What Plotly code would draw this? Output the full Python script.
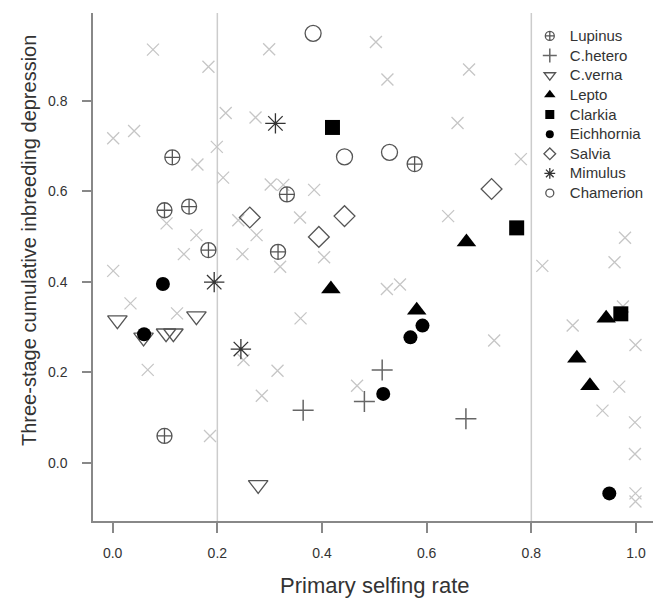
import plotly.graph_objects as go

# ---- data ----
lupinus_x = [0.114, 0.099, 0.146, 0.183, 0.316, 0.333, 0.577, 0.099]
lupinus_y = [0.675, 0.558, 0.566, 0.470, 0.466, 0.593, 0.660, 0.059]

chetero_x = [0.515, 0.481, 0.364, 0.675]
chetero_y = [0.205, 0.135, 0.116, 0.097]

cverna_x = [0.009, 0.160, 0.059, 0.102, 0.116, 0.278]
cverna_y = [0.315, 0.324, 0.277, 0.286, 0.286, -0.049]

lepto_x = [0.676, 0.417, 0.581, 0.943, 0.887, 0.912]
lepto_y = [0.488, 0.384, 0.337, 0.319, 0.231, 0.170]

clarkia_x = [0.420, 0.772, 0.971]
clarkia_y = [0.741, 0.519, 0.329]

eich_x = [0.096, 0.060, 0.592, 0.569, 0.517, 0.949]
eich_y = [0.395, 0.284, 0.303, 0.277, 0.152, -0.068]

salvia_x = [0.262, 0.443, 0.394, 0.724]
salvia_y = [0.542, 0.545, 0.499, 0.605]

mimulus_x = [0.311, 0.194, 0.245]
mimulus_y = [0.750, 0.399, 0.251]

chamerion_x = [0.383, 0.443, 0.529]
chamerion_y = [0.949, 0.676, 0.686]

other_x = [0.001, 0.041, 0.162, 0.199, 0.216, 0.211, 0.273, 0.103, 0.160, 0.136,
           0.240, 0.248, 0.275, 0.001, 0.034, 0.123, 0.250, 0.067, 0.285, 0.186,
           0.299, 0.503, 0.525, 0.681, 0.659, 0.780, 0.302, 0.326, 0.385, 0.641,
           0.358, 0.320, 0.404, 0.524, 0.549, 0.359, 0.729, 0.315, 0.467, 0.979,
           0.959, 0.821, 0.975, 0.879, 0.999, 0.968, 0.936, 0.998, 0.998, 0.999,
           0.999, 0.077, 0.183]
other_y = [0.717, 0.733, 0.659, 0.698, 0.773, 0.630, 0.763, 0.529, 0.503, 0.461,
           0.536, 0.461, 0.503, 0.424, 0.352, 0.330, 0.227, 0.205, 0.148, 0.059,
           0.914, 0.930, 0.847, 0.869, 0.751, 0.671, 0.615, 0.614, 0.603, 0.545,
           0.542, 0.433, 0.454, 0.384, 0.394, 0.319, 0.270, 0.203, 0.170, 0.497,
           0.443, 0.435, 0.345, 0.303, 0.260, 0.168, 0.115, 0.089, 0.019, -0.068,
           -0.086, 0.913, 0.875]

x_ticks = [0.0, 0.2, 0.4, 0.6, 0.8, 1.0]
x_ticklabels = ["0.0", "0.2", "0.4", "0.6", "0.8", "1.0"]
y_ticks = [0.0, 0.2, 0.4, 0.6, 0.8]
y_ticklabels = ["0.0", "0.2", "0.4", "0.6", "0.8"]
ref_lines = [0.2, 0.8]

FONT = "Liberation Sans, Arial, Helvetica, sans-serif"

fig = go.Figure()

# background "other" points
fig.add_trace(go.Scatter(x=other_x, y=other_y, mode="markers", showlegend=False,
                         marker=dict(symbol="x-thin-open", size=12, color="#c6c6c6",
                                     line=dict(width=1.3, color="#c6c6c6"))))

species = [
    ("Lupinus", lupinus_x, lupinus_y, "circle-cross-open", 15, "#555555", 1.3, 9),
    ("C.hetero", chetero_x, chetero_y, "cross-thin-open", 15, "#666666", 1.5, 10),
    ("C.verna", cverna_x, cverna_y, "triangle-down-open", 17, "#555555", 1.3, 10),
    ("Lepto", lepto_x, lepto_y, "triangle-up", 17, "#000000", 0, 10),
    ("Clarkia", clarkia_x, clarkia_y, "square", 15, "#000000", 0, 9),
    ("Eichhornia", eich_x, eich_y, "circle", 14, "#000000", 0, 8),
    ("Salvia", salvia_x, salvia_y, "diamond-open", 16, "#555555", 1.3, 9),
    ("Mimulus", mimulus_x, mimulus_y, "asterisk-open", 17, "#333333", 1.3, 9),
    ("Chamerion", chamerion_x, chamerion_y, "circle-open", 16, "#555555", 1.3, 8),
]

for name, xs, ys, sym, size, col, lw, lsize in species:
    fig.add_trace(go.Scatter(x=xs, y=ys, mode="markers", name=name, showlegend=False,
                             marker=dict(symbol=sym, size=size, color=col,
                                         line=dict(width=lw, color=col))))
for name, xs, ys, sym, size, col, lw, lsize in species:
    fig.add_trace(go.Scatter(x=[None], y=[None], mode="markers",
                             name="<span style='font-size:15px'>" + name + "</span>",
                             showlegend=True,
                             marker=dict(symbol=sym, size=lsize, color=col,
                                         line=dict(width=max(lw, 1) if lw else 0, color=col))))

for v in ref_lines:
    fig.add_shape(type="line", xref="x", yref="paper", x0=v, x1=v, y0=0, y1=1,
                  line=dict(color="#cccccc", width=1.5), layer="below")

fig.update_layout(
    width=653, height=599,
    margin=dict(l=93, r=0, t=13, b=78),
    paper_bgcolor="white", plot_bgcolor="white",
    font=dict(family=FONT, color="#333333", size=14),
    showlegend=True,
    legend=dict(x=0.78, y=0.984, xanchor="left", yanchor="top",
                bgcolor="rgba(0,0,0,0)", font=dict(size=12.8, color="#333333"),
                tracegroupgap=0, itemwidth=30),
    xaxis=dict(range=[-0.0376, 1.0325], tickvals=x_ticks, ticktext=x_ticklabels,
               showgrid=False, zeroline=False, showline=True, linecolor="#888888",
               linewidth=1.5, ticks="outside", ticklen=10, tickcolor="#888888",
               tickwidth=1.5, ticklabelstandoff=8, tickfont=dict(size=14, color="#333333")),
    yaxis=dict(range=[-0.129, 0.994], tickvals=y_ticks, ticktext=y_ticklabels,
               showgrid=False, zeroline=False, showline=True, linecolor="#888888",
               linewidth=1.5, ticks="outside", ticklen=9, tickcolor="#888888",
               tickwidth=1.5, ticklabelstandoff=12, tickfont=dict(size=14, color="#333333")),
    annotations=[
        dict(text="Primary selfing rate", xref="paper", yref="paper",
             x=(375 - 93) / 560, y=-(585 - 521) / 508, showarrow=False,
             xanchor="center", yanchor="middle", font=dict(size=22, color="#333333")),
        dict(text="Three-stage cumulative inbreeding depression", xref="paper", yref="paper",
             x=-(93 - 29) / 560, y=(521 - 241) / 508, showarrow=False, textangle=-90,
             xanchor="center", yanchor="middle", font=dict(size=20, color="#333333")),
    ],
)

fig.write_html("out.html", config={"displayModeBar": False},
               post_script="document.body.style.margin='0';document.body.style.overflow='hidden';")
